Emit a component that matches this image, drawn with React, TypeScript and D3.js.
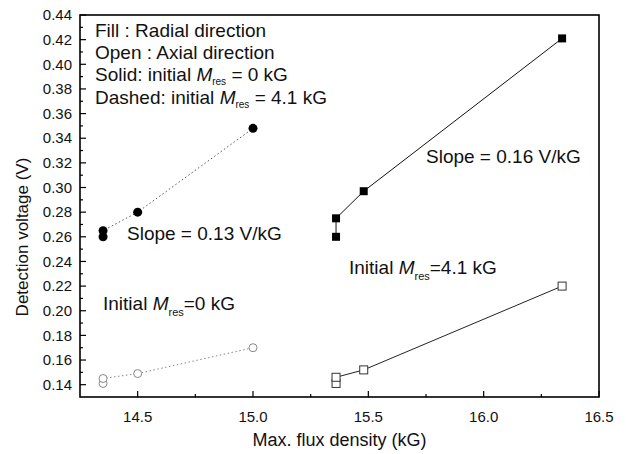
import React from "react";
import * as d3 from "d3";

const W = 626;
const H = 454;
const PLOT = { left: 80, right: 599, top: 15, bottom: 397 };

const xDomain = [14.25, 16.5];
const yDomain = [0.13, 0.44];
const xMajorTicks = [14.5, 15.0, 15.5, 16.0, 16.5];
const xTickLabels = ["14.5", "15.0", "15.5", "16.0", "16.5"];
const xMinorTicks = [14.75, 15.25, 15.75, 16.25];
const yMajorTicks = [0.14, 0.16, 0.18, 0.2, 0.22, 0.24, 0.26, 0.28, 0.3, 0.32, 0.34, 0.36, 0.38, 0.4, 0.42, 0.44];
const yTickLabels = ["0.14", "0.16", "0.18", "0.20", "0.22", "0.24", "0.26", "0.28", "0.30", "0.32", "0.34", "0.36", "0.38", "0.40", "0.42", "0.44"];
const yMinorTicks = [0.15, 0.17, 0.19, 0.21, 0.23, 0.25, 0.27, 0.29, 0.31, 0.33, 0.35, 0.37, 0.39, 0.41, 0.43];

// Fill (radial), dashed
const filledCircleX = [14.35, 14.35, 14.5, 15.0];
const filledCircleY = [0.26, 0.265, 0.28, 0.348];
// Open (axial), dashed
const openCircleX = [14.35, 14.35, 14.5, 15.0];
const openCircleY = [0.141, 0.145, 0.149, 0.17];
// Fill (radial), solid
const filledSquareX = [15.36, 15.36, 15.48, 16.34];
const filledSquareY = [0.26, 0.275, 0.297, 0.421];
// Open (axial), solid
const openSquareX = [15.36, 15.36, 15.48, 16.34];
const openSquareY = [0.141, 0.146, 0.152, 0.22];

const FONT = "'Liberation Sans', Arial, Helvetica, sans-serif";

function zip(xs: number[], ys: number[]): [number, number][] {
  return xs.map((x, i) => [x, ys[i]]);
}

export default function App() {
  const x = d3.scaleLinear().domain(xDomain).range([PLOT.left, PLOT.right]);
  const y = d3.scaleLinear().domain(yDomain).range([PLOT.bottom, PLOT.top]);
  const line = d3
    .line<[number, number]>()
    .x((d) => x(d[0]))
    .y((d) => y(d[1]));

  const fc = zip(filledCircleX, filledCircleY);
  const oc = zip(openCircleX, openCircleY);
  const fs = zip(filledSquareX, filledSquareY);
  const os = zip(openSquareX, openSquareY);
  const S = 8;

  return (
    <svg width={W} height={H} style={{ position: "absolute", left: 0, top: 0, background: "#fff" }} fontFamily={FONT}>
      <rect x={0} y={0} width={W} height={H} fill="#fff" />
      {/* lines */}
      <path d={line(fc) || ""} fill="none" stroke="#555" strokeWidth={1} strokeDasharray="1.5,2.5" />
      <path d={line(oc) || ""} fill="none" stroke="#888" strokeWidth={1} strokeDasharray="1.5,2.5" />
      <path d={line(fs) || ""} fill="none" stroke="#111" strokeWidth={1} />
      <path d={line(os) || ""} fill="none" stroke="#222" strokeWidth={1} />
      {/* markers */}
      {fc.map((d, i) => (
        <circle key={"fc" + i} cx={x(d[0])} cy={y(d[1])} r={4.5} fill="#000" />
      ))}
      {oc.map((d, i) => (
        <circle key={"oc" + i} cx={x(d[0])} cy={y(d[1])} r={4} fill="#fff" stroke="#888" strokeWidth={1} />
      ))}
      {fs.map((d, i) => (
        <rect key={"fs" + i} x={x(d[0]) - S / 2} y={y(d[1]) - S / 2} width={S} height={S} fill="#000" />
      ))}
      {os.map((d, i) => (
        <rect key={"os" + i} x={x(d[0]) - S / 2} y={y(d[1]) - S / 2} width={S} height={S} fill="#fff" stroke="#333" strokeWidth={1} />
      ))}
      {/* frame */}
      <rect x={PLOT.left} y={PLOT.top} width={PLOT.right - PLOT.left} height={PLOT.bottom - PLOT.top} fill="none" stroke="#000" strokeWidth={1.6} />
      {/* x ticks */}
      {xMajorTicks.map((t, i) => (
        <g key={"xt" + i}>
          <line x1={x(t)} x2={x(t)} y1={PLOT.bottom} y2={PLOT.bottom - 6} stroke="#000" strokeWidth={1.2} />
          <text x={x(t)} y={422} textAnchor="middle" fontSize={15} fill="#111">
            {xTickLabels[i]}
          </text>
        </g>
      ))}
      {xMinorTicks.map((t, i) => (
        <line key={"xm" + i} x1={x(t)} x2={x(t)} y1={PLOT.bottom} y2={PLOT.bottom - 3} stroke="#000" strokeWidth={1.2} />
      ))}
      {/* y ticks */}
      {yMajorTicks.map((t, i) => (
        <g key={"yt" + i}>
          <line x1={PLOT.left} x2={PLOT.left + 6} y1={y(t)} y2={y(t)} stroke="#000" strokeWidth={1.2} />
          <text x={72} y={y(t)} dy="0.35em" textAnchor="end" fontSize={15} fill="#111">
            {yTickLabels[i]}
          </text>
        </g>
      ))}
      {yMinorTicks.map((t, i) => (
        <line key={"ym" + i} x1={PLOT.left} x2={PLOT.left + 3} y1={y(t)} y2={y(t)} stroke="#000" strokeWidth={1.2} />
      ))}
      {/* axis titles */}
      <text x={(PLOT.left + PLOT.right) / 2} y={446} textAnchor="middle" fontSize={18} fill="#111">
        Max. flux density (kG)
      </text>
      <text transform="translate(28,237) rotate(-90)" textAnchor="middle" fontSize={17} fill="#111">
        Detection voltage (V)
      </text>
      {/* legend block */}
      <g fontSize={19} fill="#111">
        <text x={95} y={36.5}>Fill : Radial direction</text>
        <text x={95} y={59}>Open : Axial direction</text>
        <text x={95} y={81}>
          Solid: initial <tspan fontStyle="italic">M</tspan>
          <tspan fontSize={10} dy={4}>res</tspan>
          <tspan dy={-4}> = 0 kG</tspan>
        </text>
        <text x={95} y={103.5}>
          Dashed: initial <tspan fontStyle="italic">M</tspan>
          <tspan fontSize={10} dy={4}>res</tspan>
          <tspan dy={-4}> = 4.1 kG</tspan>
        </text>
      </g>
      {/* annotations */}
      <g fontSize={19} fill="#111">
        <text x={127} y={240}>Slope = 0.13 V/kG</text>
        <text x={426} y={163}>Slope = 0.16 V/kG</text>
        <text x={103} y={310}>
          Initial <tspan fontStyle="italic">M</tspan>
          <tspan fontSize={11} dy={6}>res</tspan>
          <tspan dy={-6}>=0 kG</tspan>
        </text>
        <text x={349} y={274}>
          Initial <tspan fontStyle="italic">M</tspan>
          <tspan fontSize={11} dy={6}>res</tspan>
          <tspan dy={-6}>=4.1 kG</tspan>
        </text>
      </g>
    </svg>
  );
}
